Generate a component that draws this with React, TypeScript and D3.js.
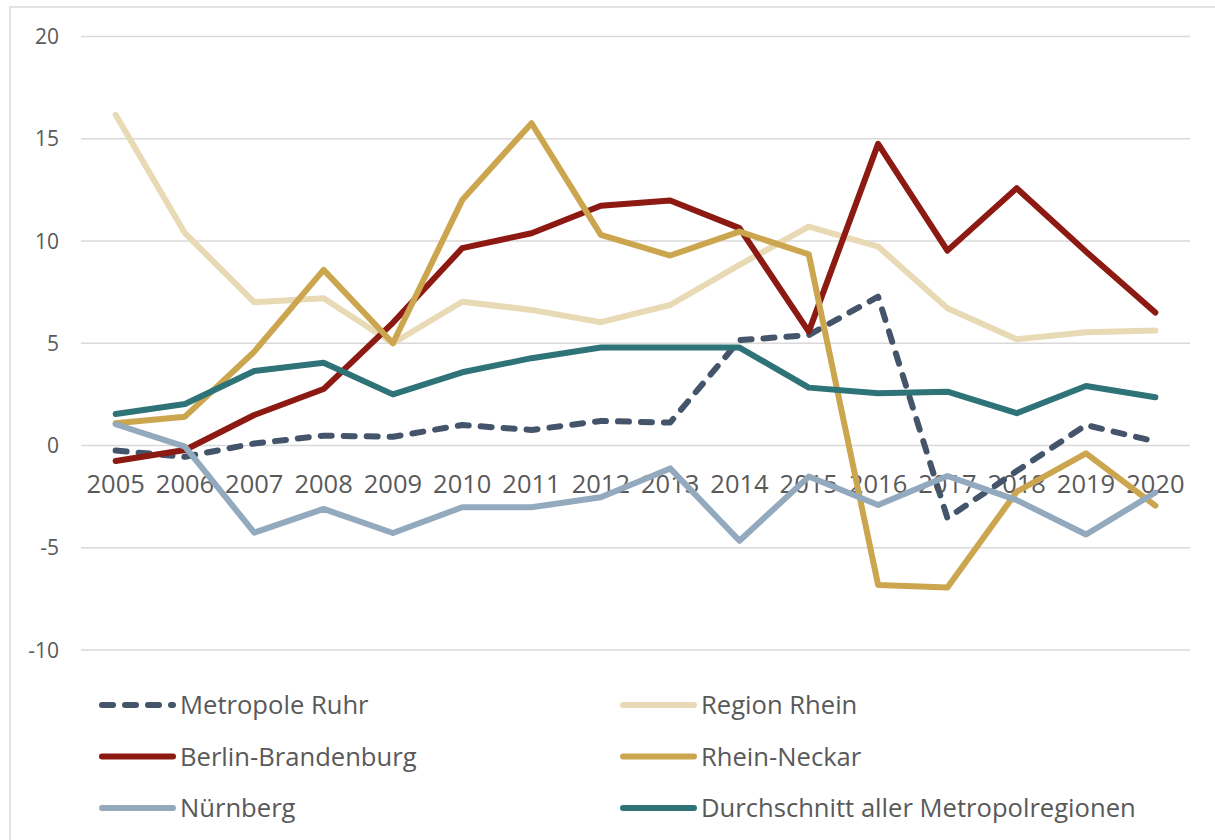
import { useRef, useEffect } from 'react';
import * as d3 from 'd3';

const years = ['2005', '2006', '2007', '2008', '2009', '2010', '2011', '2012', '2013', '2014', '2015', '2016', '2017', '2018', '2019', '2020'];
const yTicks = [-10, -5, 0, 5, 10, 15, 20];

const metropoleRuhr = [-0.25, -0.55, 0.1, 0.48, 0.43, 1.0, 0.76, 1.2, 1.12, 5.15, 5.4, 7.28, -3.55, -1.25, 1.0, 0.2];
const regionRhein = [16.17, 10.38, 7.0, 7.2, 5.0, 7.03, 6.63, 6.03, 6.87, 8.83, 10.7, 9.73, 6.71, 5.2, 5.54, 5.62];
const berlinBrandenburg = [-0.76, -0.22, 1.49, 2.76, 6.0, 9.65, 10.38, 11.72, 11.98, 10.63, 5.57, 14.75, 9.53, 12.58, 9.48, 6.5];
const rheinNeckar = [1.09, 1.41, 4.59, 8.59, 5.0, 12.0, 15.76, 10.3, 9.29, 10.46, 9.35, -6.82, -6.94, -2.26, -0.38, -2.94];
const nuernberg = [1.04, -0.06, -4.26, -3.1, -4.28, -3.02, -3.02, -2.53, -1.12, -4.66, -1.52, -2.91, -1.49, -2.67, -4.35, -2.3];
const durchschnitt = [1.54, 2.03, 3.64, 4.05, 2.5, 3.58, 4.27, 4.79, 4.79, 4.79, 2.83, 2.55, 2.63, 1.58, 2.91, 2.36];

const seriesList = [
  { name: 'Metropole Ruhr', values: metropoleRuhr, color: '#44546a', dashed: true },
  { name: 'Region Rhein', values: regionRhein, color: '#e9dab6', dashed: false },
  { name: 'Berlin-Brandenburg', values: berlinBrandenburg, color: '#8c1a12', dashed: false },
  { name: 'Rhein-Neckar', values: rheinNeckar, color: '#cba64f', dashed: false },
  { name: 'Nürnberg', values: nuernberg, color: '#93a9be', dashed: false },
  { name: 'Durchschnitt aller Metropolregionen', values: durchschnitt, color: '#2e7378', dashed: false },
];

const FONT = "'Open Sans', sans-serif";
const DASH = '11,12';
const LINE_W = 6;

const App = () => {
  const ref = useRef(null);

  useEffect(() => {
    const svg = d3.select(ref.current);
    svg.selectAll('*').remove();

    // chart frame (only left and top edges are visible)
    svg.append('rect')
      .attr('x', 10).attr('y', 7)
      .attr('width', 1240).attr('height', 860)
      .attr('fill', '#fff')
      .attr('stroke', '#d9d9d9')
      .attr('stroke-width', 1.5);

    const x = d3.scalePoint().domain(years).range([81, 1190]).padding(0.5);
    const y = d3.scaleLinear().domain([-10, 20]).range([650, 36.5]);

    // gridlines + y labels
    const grid = svg.append('g');
    grid.selectAll('line')
      .data(yTicks)
      .enter()
      .append('line')
      .attr('x1', 81).attr('x2', 1190)
      .attr('y1', d => y(d)).attr('y2', d => y(d))
      .attr('stroke', '#d9d9d9')
      .attr('stroke-width', 1.5);

    grid.selectAll('text')
      .data(yTicks)
      .enter()
      .append('text')
      .attr('x', 59)
      .attr('y', d => y(d))
      .attr('dy', '0.36em')
      .attr('text-anchor', 'end')
      .style('font-family', FONT)
      .style('font-size', '21px')
      .style('fill', '#595959')
      .text(d => d);

    // x labels sit just under the zero line
    svg.append('g')
      .selectAll('text')
      .data(years)
      .enter()
      .append('text')
      .attr('x', d => x(d))
      .attr('y', y(0) + 47)
      .attr('text-anchor', 'middle')
      .style('font-family', FONT)
      .style('font-size', '25.5px')
      .style('fill', '#595959')
      .text(d => d);

    const line = d3.line()
      .x((d, i) => x(years[i]))
      .y(d => y(d));

    svg.append('g')
      .selectAll('path')
      .data(seriesList)
      .enter()
      .append('path')
      .attr('d', d => line(d.values))
      .attr('fill', 'none')
      .attr('stroke', d => d.color)
      .attr('stroke-width', LINE_W)
      .attr('stroke-linejoin', 'round')
      .attr('stroke-linecap', 'round')
      .attr('stroke-dasharray', d => (d.dashed ? DASH : null));

    // legend, two columns
    const legend = svg.append('g');
    const item = legend.selectAll('g')
      .data(seriesList)
      .enter()
      .append('g')
      .attr('transform', (d, i) => `translate(${i % 2 === 0 ? 102 : 623}, ${705 + Math.floor(i / 2) * 51.5})`);

    item.append('line')
      .attr('x1', 0).attr('x2', 71)
      .attr('stroke', d => d.color)
      .attr('stroke-width', LINE_W)
      .attr('stroke-linecap', 'round')
      .attr('stroke-dasharray', d => (d.dashed ? DASH : null));

    item.append('text')
      .attr('x', 78)
      .attr('dy', '0.36em')
      .style('font-family', FONT)
      .style('font-size', '25.6px')
      .style('fill', '#595959')
      .text(d => d.name);
  }, []);

  return (
    <>
      <style>{'body { margin: 0; }'}</style>
      <svg ref={ref} width={1215} height={840} style={{ display: 'block' }} />
    </>
  );
};

export default App;
